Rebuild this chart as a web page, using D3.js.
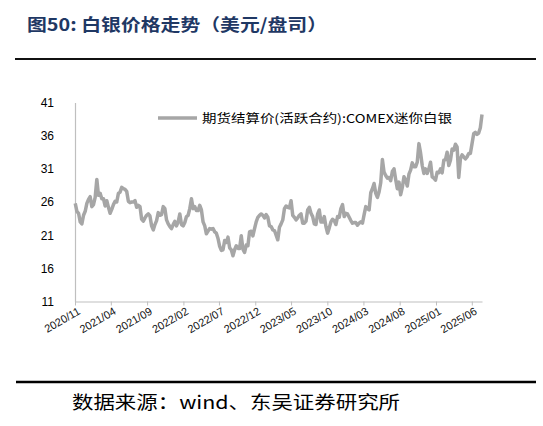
<!DOCTYPE html>
<html>
<head>
<meta charset="utf-8">
<script src="https://cdn.jsdelivr.net/npm/d3@7"></script>
<style>
  body { margin: 0; background: #fff; }
  svg { display: block; }
</style>
</head>
<body>
<svg width="543" height="426"></svg>
<script>
// weekly settle prices (USD/oz), one entry per Monday starting 2020-11-02
const firstWeek = '2020-11-02';
const prices2020 = [25.8, 24.6, 24.3, 23.0, 22.7, 24.0, 24.6, 25.8, 26.4];
const prices2021 = [
  26.8, 25.3, 25.6, 26.7,  29.4, 27.0, 27.3, 26.5,  26.5, 25.4, 26.2, 25.2, 24.3,
  24.9, 25.6, 26.1, 26.0,  27.3, 27.5, 28.2, 28.0, 27.9,  27.6, 26.1, 25.9, 26.0,
  26.0, 26.2, 25.2, 25.5,  25.3, 23.4, 23.1, 23.6, 24.0,  24.2, 23.9, 22.4, 21.8,
  22.6, 23.2, 24.4, 24.0,  24.1, 25.3, 25.0, 23.3, 22.7,  22.3, 22.0, 22.6, 23.1
];
const prices2022 = [
  22.4, 23.0, 24.2, 22.6, 22.4,  22.9, 23.8, 24.0, 25.0,  26.5, 25.0, 25.3, 24.7,
  24.7, 25.5, 24.8, 23.0,  22.4, 21.2, 21.6, 22.0, 21.9,  22.0, 21.5, 21.3, 20.5,
  19.3, 18.7, 18.8, 20.2,  19.9, 20.7, 19.1, 18.8, 17.9,  18.8, 19.4, 19.0, 19.0,
  20.9, 18.9, 18.4, 19.5, 19.4,  21.5, 21.6, 20.9, 22.0,  23.0, 23.7, 24.0, 24.2
];
const prices2023 = [
  24.0, 23.6, 24.1, 23.7, 22.4,  22.3, 21.8, 21.7, 21.0,  20.3, 22.2, 22.7, 23.3,
  25.0, 25.4, 25.2, 25.1,  26.2, 24.0, 23.7, 23.3, 23.6,  24.0, 24.2, 22.8, 22.8,
  23.1, 24.8, 25.2, 24.3, 23.8,  22.7, 22.6, 24.2, 24.8,  23.0, 23.0, 23.8, 22.3,
  21.3, 22.1, 23.0, 23.4, 23.2,  22.6, 23.8, 23.7, 25.0,  25.6, 23.8, 24.3, 24.2
];
const prices2024 = [
  23.7, 23.2, 22.8, 22.9, 22.9,  22.5, 22.8, 23.0, 22.8,  24.1, 25.3, 25.0, 24.8,
  27.4, 28.0, 28.8, 27.3, 26.7,  27.5, 28.9, 32.4, 30.5,  30.0, 29.6, 29.7, 29.2,
  30.6, 31.0, 29.4, 28.0, 29.0,  27.1, 28.2, 29.8, 29.3,  28.4, 30.2, 30.8, 31.9, 31.3,
  31.3, 32.0, 34.8, 33.4,  31.5, 30.3, 31.0, 30.3,  31.0, 32.0, 29.8, 29.6, 29.3
];
const prices2025 = [
  30.5, 30.4, 31.0, 30.4,  32.3, 32.4, 33.5, 31.5,  32.3, 34.0, 33.8, 34.7, 34.3,
  29.7, 32.5, 33.1, 32.8,  32.5, 32.8, 33.3, 33.3,  34.8, 36.3, 36.5, 36.2, 36.4,
  37.2, 39.2
];

const yTicks = [11, 16, 21, 26, 31, 36, 41];
const xTickLabels = ['2020/11', '2021/04', '2021/09', '2022/02', '2022/07', '2022/12',
  '2023/05', '2023/10', '2024/03', '2024/08', '2025/01', '2025/06'];

const titleText = '图50:  白银价格走势（美元/盘司）';
const legendText = '期货结算价(活跃合约):COMEX迷你白银';
const sourceText = '数据来源：wind、东吴证券研究所';

const parseDay = d3.timeParse('%Y-%m-%d');
const parseMonth = d3.timeParse('%Y/%m');
const start = parseDay(firstWeek);
const values = [].concat(prices2020, prices2021, prices2022, prices2023, prices2024, prices2025);
const data = values.map((v, i) => ({ date: d3.timeWeek.offset(start, i), value: v }));

const svg = d3.select('svg');
const lineColor = '#a6a6a6';

// header
svg.append('text')
  .attr('x', 27).attr('y', 31)
  .attr('font-family', '"Noto Sans CJK SC", sans-serif')
  .attr('font-size', 17).attr('font-weight', 'bold')
  .attr('fill', '#1f3864')
  .attr('textLength', 300).attr('lengthAdjust', 'spacingAndGlyphs')
  .text(titleText);

svg.append('line')
  .attr('x1', 15).attr('x2', 536).attr('y1', 59).attr('y2', 59)
  .attr('stroke', '#111').attr('stroke-width', 2);

// plot area
const x = d3.scaleTime()
  .domain([parseDay('2020-11-01'), data[data.length - 1].date])
  .range([75, 482]);
const y = d3.scaleLinear().domain([11, 41]).range([301.5, 102.5]);

const yAxis = svg.append('g')
  .attr('transform', 'translate(75,0)')
  .call(d3.axisLeft(y).tickValues(yTicks).tickSize(0).tickPadding(21).tickFormat(d3.format('d')));
yAxis.select('.domain').attr('stroke', '#bfbfbf').attr('stroke-width', 1.2);
yAxis.selectAll('text')
  .attr('font-family', '"Liberation Sans", Arial, sans-serif')
  .attr('font-size', 12).attr('fill', '#000');

const xAxis = svg.append('g')
  .attr('transform', 'translate(0,301.5)')
  .call(d3.axisBottom(x)
    .tickValues(xTickLabels.map(parseMonth))
    .tickSize(4).tickSizeOuter(0)
    .tickFormat(d3.timeFormat('%Y/%m')));
xAxis.select('.domain').attr('stroke', '#bfbfbf').attr('stroke-width', 1.2);
xAxis.selectAll('.tick line').attr('stroke', '#bfbfbf');
xAxis.selectAll('text')
  .attr('font-family', '"Liberation Sans", Arial, sans-serif')
  .attr('font-size', 11).attr('fill', '#111')
  .attr('text-anchor', 'end')
  .attr('dy', 0)
  .attr('transform', 'translate(2,6) rotate(-30)');

svg.append('path')
  .datum(data)
  .attr('fill', 'none')
  .attr('stroke', lineColor)
  .attr('stroke-width', 3.5)
  .attr('stroke-linejoin', 'round')
  .attr('d', d3.line().x(d => x(d.date)).y(d => y(d.value)));

// legend
svg.append('line')
  .attr('x1', 158).attr('x2', 197).attr('y1', 118).attr('y2', 118)
  .attr('stroke', lineColor).attr('stroke-width', 3.5);
svg.append('text')
  .attr('x', 202).attr('y', 122.5)
  .attr('font-family', '"Noto Sans CJK SC", sans-serif')
  .attr('font-size', 12).attr('fill', '#000')
  .attr('textLength', 250).attr('lengthAdjust', 'spacingAndGlyphs')
  .text(legendText);

// footer
svg.append('line')
  .attr('x1', 16).attr('x2', 536).attr('y1', 382).attr('y2', 382)
  .attr('stroke', '#000').attr('stroke-width', 2.5);
svg.append('text')
  .attr('x', 72).attr('y', 409)
  .attr('font-family', '"Noto Sans CJK SC", sans-serif')
  .attr('font-size', 18).attr('fill', '#000')
  .attr('textLength', 328).attr('lengthAdjust', 'spacingAndGlyphs')
  .text(sourceText);
</script>
</body>
</html>
